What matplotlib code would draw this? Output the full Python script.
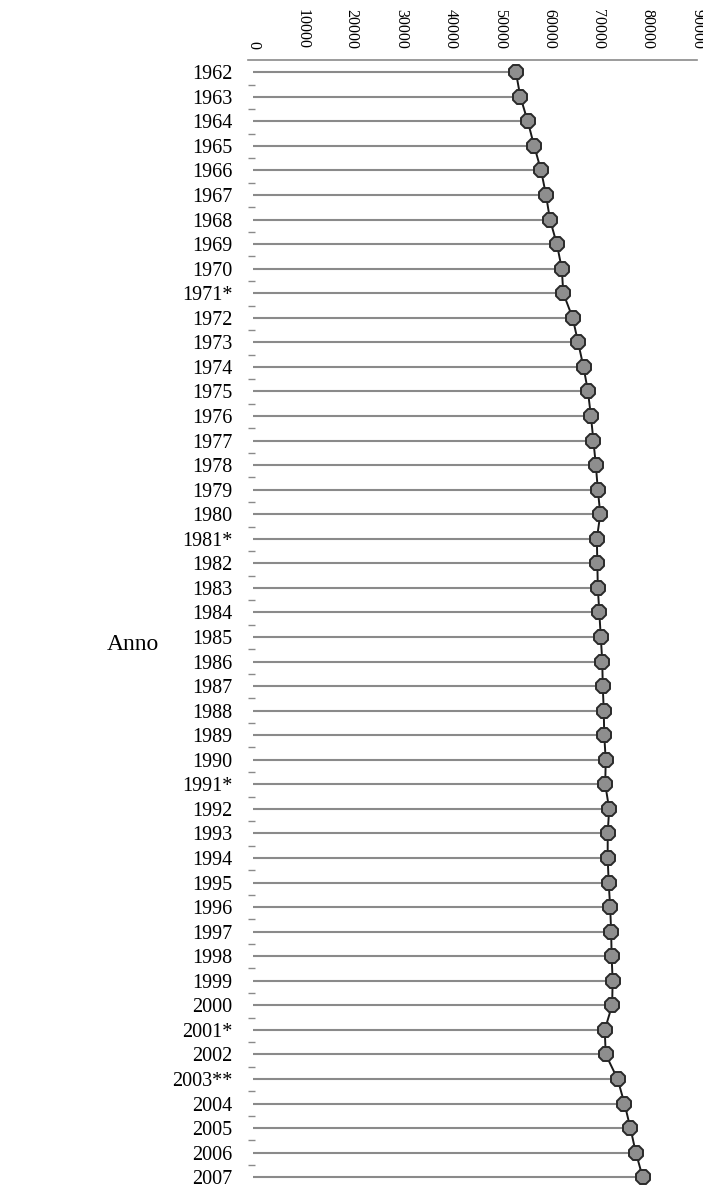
import matplotlib
matplotlib.use("Agg")
import matplotlib.pyplot as plt
import numpy as np

plt.rcParams['font.family'] = ['Liberation Serif', 'DejaVu Serif']

# year labels (asterisks as in the source table)
years = ['1962', '1963', '1964', '1965', '1966', '1967', '1968', '1969', '1970', '1971*',
         '1972', '1973', '1974', '1975', '1976', '1977', '1978', '1979', '1980', '1981*',
         '1982', '1983', '1984', '1985', '1986', '1987', '1988', '1989', '1990', '1991*',
         '1992', '1993', '1994', '1995', '1996', '1997', '1998', '1999', '2000', '2001*',
         '2002', '2003**', '2004', '2005', '2006', '2007']

# values
values = [53300, 54200, 55700, 57000, 58400, 59400, 60200, 61600, 62600, 62900,
          64800, 65900, 67000, 67900, 68500, 69000, 69500, 69900, 70400, 69700,
          69800, 69900, 70200, 70500, 70800, 70900, 71100, 71200, 71500, 71400,
          72200, 71900, 71900, 72100, 72400, 72600, 72700, 72900, 72800, 71300,
          71500, 73900, 75300, 76500, 77600, 79000]

xticks = [0, 10000, 20000, 30000, 40000, 50000, 60000, 70000, 80000, 90000]
marked_ticks = [40000, 50000, 60000, 70000]

W, H = 703, 1187
fig = plt.figure(figsize=(W / 100, H / 100), dpi=100)
ax = fig.add_axes([248 / W, 0, (697 - 248) / W, 1 - 60 / H])

ypos = np.arange(len(years))
ax.hlines(ypos, 0, values, color='#8a8a8a', linewidth=1.5, zorder=1)
ax.plot(values, ypos, color='#1a1a1a', linewidth=1.4, marker='8', markersize=10.5,
        markerfacecolor='#8e8e8e', markeredgecolor='#2a2a2a', markeredgewidth=1.4, zorder=3)

ax.set_xlim(-1000, 90000)
ax.set_ylim(45.4, -0.5)

ax.xaxis.tick_top()
ax.set_xticks(xticks)
ax.set_xticklabels([str(t) for t in xticks], rotation=-90, fontsize=11.5)
ax.set_xticks(marked_ticks, minor=True)
ax.tick_params(axis='x', which='major', length=0, pad=8)
ax.tick_params(axis='x', which='minor', length=5, color='#555555', width=1, direction='out')

ax.set_yticks(ypos)
ax.set_yticklabels(years, fontsize=14.5)
ax.set_yticks(ypos[:-1] + 0.5, minor=True)
ax.tick_params(axis='y', which='major', length=0, pad=11)
ax.tick_params(axis='y', which='minor', length=5, color='#8a8a8a', width=1, direction='in')

for side in ['left', 'right', 'bottom']:
    ax.spines[side].set_visible(False)
ax.spines['top'].set_color('#8a8a8a')
ax.spines['top'].set_linewidth(1.2)

fig.text(133 / W, 1 - 645 / H, 'Anno', fontsize=17, ha='center', va='center')

fig.savefig('out.png', dpi=100)
